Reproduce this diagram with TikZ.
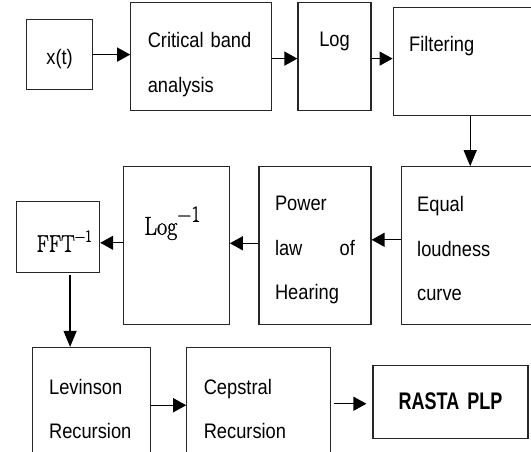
\documentclass[tikz,border=0pt]{standalone}
\usepackage{fontspec}
\usepackage{graphicx}
\newfontfamily\narrowsf{Liberation Sans}[FakeStretch=0.87]
\newfontfamily\narrowbf{Liberation Sans}[FakeStretch=0.75]
\newfontfamily\invserif{Latin Modern Roman}[FakeStretch=0.85, FakeBold=1]
\usepackage{tikz}
\usetikzlibrary{
  arrows.meta,
  positioning
}
\tikzset{
  stagebox/.style={draw=black!85, line width=1.2pt, inner sep=0pt,
    align=left, font=\narrowsf\fontsize{21}{44.5}\selectfont},
  harr/.style={-{Triangle[length=13pt, width=14pt]}, line width=1.3pt},
  varr/.style={-{Triangle[length=16pt, width=13pt]}, line width=1.3pt},
}
% inverse operator label: main size, text, superscript size, raise
\newcommand{\invop}[4]{{\invserif\fontsize{#1}{#1}\selectfont #2\raisebox{#4}{\fontsize{#3}{#3}\selectfont −1}}}

\begin{document}
\begin{tikzpicture}
  \useasboundingbox (0,0) rectangle (531pt,-452pt);

  % Top row
  \node[stagebox, anchor=north west, align=center,
        minimum width=66pt, text width=66pt,
        text height=45pt, text depth=25pt] (xt) at (26pt,-19pt) {x(t)};
  \node[stagebox, above right=17pt and 37pt of xt.north east, anchor=north west,
        minimum width=141pt, text width=107pt,
        text height=45pt, text depth=63pt] (crit) {Critical band\\analysis};
  \node[stagebox, right=25pt of crit.north east, anchor=north west, align=center,
        minimum width=73pt, text width=73pt,
        text height=44pt, text depth=64pt] (logb) {Log};
  \node[stagebox, below right=5pt and 21pt of logb.north east, anchor=north west,
        minimum width=141pt, text width=109pt,
        text height=44pt, text depth=64pt] (filt) {Filtering};

  % Middle row
  \node[stagebox, below=50pt of filt.south east, anchor=north east,
        minimum width=133pt, text width=101pt,
        text height=45pt, text depth=113pt] (equal) {Equal\\loudness\\curve};
  \node[stagebox, left=29pt of equal.north west, anchor=north east,
        minimum width=112pt, text width=80pt,
        text height=44pt, text depth=114pt] (power) {Power\\law\hfill of\\Hearing};
  \node[stagebox, left=28.5pt of power.north west, anchor=north east,
        minimum width=106pt, text width=64pt,
        text height=68pt, text depth=90pt] (invlog) {\invop{26}{Log}{23}{13pt}};
  \node[stagebox, below left=35pt and 22.5pt of invlog.north west, anchor=north east,
        minimum width=83pt, text width=43pt,
        text height=50pt, text depth=21pt] (invfft) {\invop{24}{FFT}{17}{10pt}};

  % Bottom row
  \node[stagebox, below right=73.5pt and 15.5pt of invfft.south west, anchor=north west,
        minimum width=118.5pt, text width=84.5pt,
        text height=46.5pt, text depth=62pt] (lev) {Levinson\\Recursion};
  \node[stagebox, right=35pt of lev.north east, anchor=north west,
        minimum width=144pt, text width=110pt,
        text height=46.5pt, text depth=62pt] (cep) {Cepstral\\Recursion};
  \node[stagebox, right=41pt of cep, align=center,
        minimum width=155pt, text width=155pt,
        text height=44pt, text depth=29pt,
        font=\narrowbf\bfseries\fontsize{24}{24}\selectfont] (rasta) {RASTA PLP};

  % Arrows
  \draw[harr] (xt.east) -- (xt.east -| crit.west);
  \draw[harr] ([yshift=-2pt]crit.east) -- ([yshift=-2pt]crit.east -| logb.west);
  \draw[harr] ([yshift=-2pt]logb.east) -- ([yshift=-2pt]logb.east -| filt.west);
  \draw[varr] ([xshift=6.5pt]filt.south) -- ([xshift=6.5pt]filt.south |- equal.north);
  \draw[harr] ([yshift=6pt]equal.west) -- ([yshift=6pt]equal.west -| power.east);
  \draw[harr] ([yshift=2.5pt]power.west) -- ([yshift=2.5pt]power.west -| invlog.east);
  \draw[harr] ([yshift=3pt]invlog.west) -- ([yshift=3pt]invlog.west -| invfft.east);
  \draw[varr, shorten <=1.5pt] ([xshift=12pt]invfft.south) -- ([xshift=12pt]invfft.south |- lev.north);
  \draw[harr] ([yshift=-3.5pt]lev.east) -- ([yshift=-3.5pt]lev.east -| cep.west);
  \draw[harr, shorten <=3pt, shorten >=6pt] ([yshift=-2pt]cep.east) -- ([yshift=-2pt]cep.east -| rasta.west);
\end{tikzpicture}
\end{document}
